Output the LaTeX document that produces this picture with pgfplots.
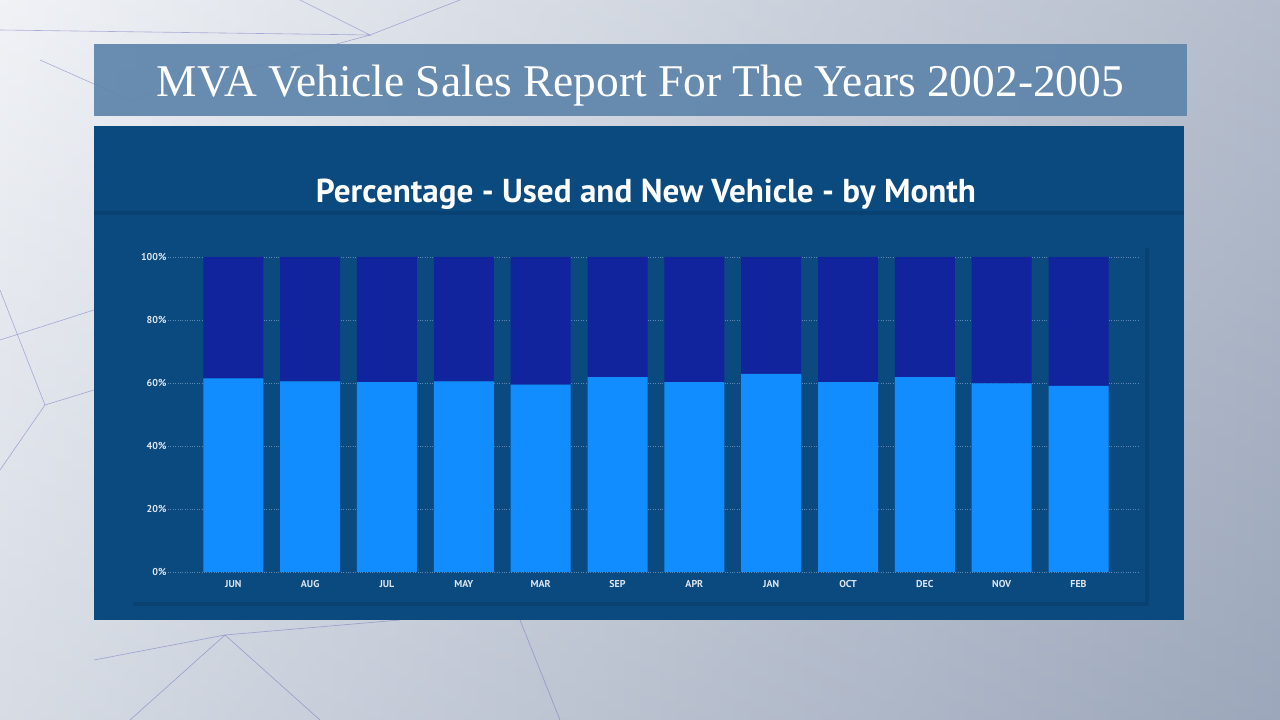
\documentclass[border=0pt]{standalone}
\usepackage{pgfplots}
\pgfplotsset{compat=1.18}
\usepackage{fontspec}
\setmainfont{Liberation Serif}
\newfontfamily\dinfont{PT Sans}
\newfontfamily\tickfont{PT Sans}
\definecolor{bgA}{HTML}{EBEEF3}
\definecolor{bgB}{HTML}{9CA7BB}
\definecolor{banner}{HTML}{5E85AB}
\definecolor{panel}{HTML}{0B4A7F}
\definecolor{panelshadow}{HTML}{083A66}
\definecolor{usedc}{HTML}{118DFF}
\definecolor{newc}{HTML}{12239E}
\definecolor{tickc}{HTML}{DCE4F0}
\definecolor{gridc}{HTML}{5C86B4}
\begin{document}
\begin{tikzpicture}[x=1pt,y=1pt]
\useasboundingbox (0,0) rectangle (1280,720);
\shade[left color=bgA, right color=bgB] (0,0) rectangle (1280,720);
\shade[top color=white, bottom color=bgB, opacity=0.25] (0,0) rectangle (1280,720);
% faint network lines (decorative)
\begin{scope}[draw=gray!60!blue, line width=0.6pt, opacity=0.4]
\draw (0,690) -- (370,685) -- (300,720);
\draw (370,685) -- (460,720);
\draw (370,685) -- (130,620) -- (40,660);
\draw (0,430) -- (45,315) -- (94,330);
\draw (45,315) -- (0,250);
\draw (0,380) -- (94,410);
\draw (225,85) -- (130,0);
\draw (225,85) -- (320,0);
\draw (225,85) -- (94,60);
\draw (225,85) -- (400,100);
\draw (520,100) -- (560,0);
\end{scope}
% banner
\fill[banner, opacity=0.92] (94,604) rectangle (1187,676);
\node[text=white, anchor=base] at (640.5,623) {\resizebox{967pt}{!}{\fontsize{44}{48}\selectfont MVA Vehicle Sales Report For The Years 2002-2005}};
% panel
\fill[panel] (94,100) rectangle (1184,594);
\node[text=white, anchor=base] at (646,517) {\resizebox{660pt}{!}{\dinfont\bfseries\fontsize{32}{36}\selectfont Percentage - Used and New Vehicle - by Month}};
\fill[panelshadow, opacity=0.5] (94,505) rectangle (1184,509);
% inner chart box
\fill[panelshadow, opacity=0.55] (133,114) rectangle (1149,472);
\fill[panel] (130,118) rectangle (1145,475);
\begin{axis}[
  at={(168pt,148pt)}, anchor=south west,
  scale only axis, width=972pt, height=315pt,
  xmin=-0.85, xmax=11.8, ymin=0, ymax=100,
  ybar stacked, bar width=60pt,
  axis line style={draw=none},
  tick style={draw=none},
  xtick=data,
  xticklabels={JUN,AUG,JUL,MAY,MAR,SEP,APR,JAN,OCT,DEC,NOV,FEB},
  ytick={0,20,40,60,80,100},
  yticklabels={0\%,20\%,40\%,60\%,80\%,100\%},
  ymajorgrids,
  grid style={gridc, dotted, line width=0.8pt},
  ticklabel style={text=tickc, font=\tickfont\bfseries\fontsize{10}{11}\selectfont},
  xticklabel style={yshift=-5pt},
  yticklabel style={xshift=2pt},
  axis background/.style={fill=none},
]
\addplot[fill=usedc, draw=none] coordinates {
(0,61.5) (1,60.5) (2,60.3) (3,60.5) (4,59.5) (5,61.9) (6,60.3) (7,62.9) (8,60.3) (9,61.9) (10,59.9) (11,59.1)};
\addplot[fill=newc, draw=none] coordinates {
(0,38.5) (1,39.5) (2,39.7) (3,39.5) (4,40.5) (5,38.1) (6,39.7) (7,37.1) (8,39.7) (9,38.1) (10,40.1) (11,40.9)};
\end{axis}
\end{tikzpicture}
\end{document}
